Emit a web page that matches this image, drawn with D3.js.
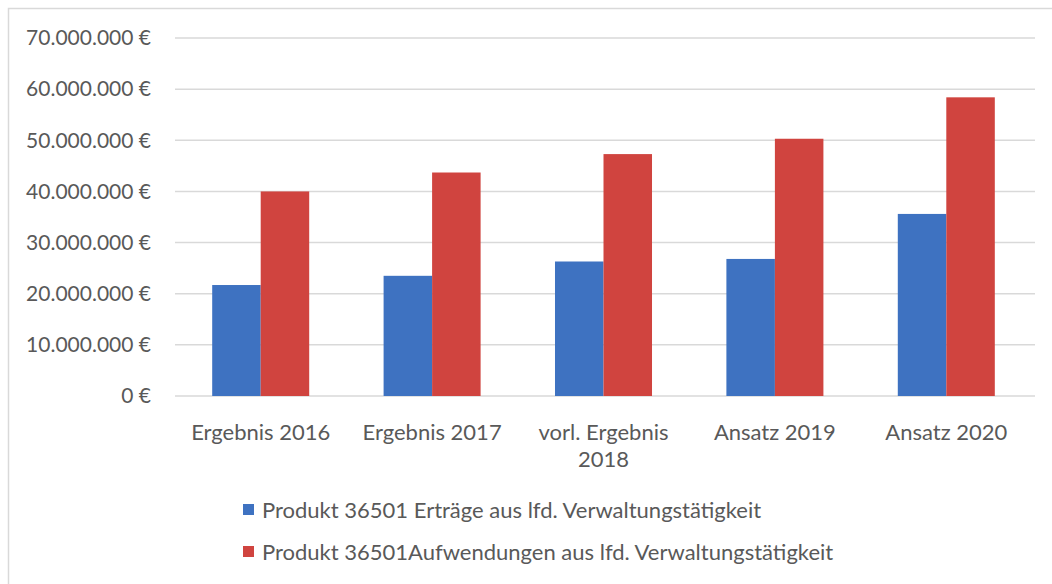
<!DOCTYPE html>
<html>
<head>
<meta charset="utf-8">
<script src="https://cdn.jsdelivr.net/npm/d3@7"></script>
<style>
	body { margin: 0; background: #fff; }
	svg text { font-family: Lato, "Open Sans", sans-serif; fill: #595959; }
</style>
</head>
<body>
<div id="chart"></div>
<script>
// categories (x axis), second line where the label wraps
var categories = ["Ergebnis 2016", "Ergebnis 2017", "vorl. Ergebnis 2018", "Ansatz 2019", "Ansatz 2020"];
var categoryLines = [["Ergebnis 2016"], ["Ergebnis 2017"], ["vorl. Ergebnis", "2018"], ["Ansatz 2019"], ["Ansatz 2020"]];

var seriesNames = ["Produkt 36501 Erträge aus lfd. Verwaltungstätigkeit",
	"Produkt 36501Aufwendungen aus lfd. Verwaltungstätigkeit"];
var ertraege = [21700000, 23500000, 26300000, 26800000, 35600000];
var aufwendungen = [40000000, 43700000, 47300000, 50300000, 58400000];
var yTicks = [0, 10000000, 20000000, 30000000, 40000000, 50000000, 60000000, 70000000];
var colors = ["#3e72c1", "#d0443f"];

var width = 1052, height = 584;
var margins = {top: 38, left: 175, right: 20, bottom: 188};

var svg = d3.select("#chart").append("svg")
	.attr("width", width)
	.attr("height", height);

// outer frame (only left and top edge visible in the picture)
svg.append("rect")
	.attr("x", 8.5).attr("y", 8.5)
	.attr("width", 1200).attr("height", 700)
	.attr("fill", "none")
	.attr("stroke", "#d9d9d9")
	.attr("stroke-width", 1.5);

var y = d3.scaleLinear()
	.domain([0, 70000000])
	.range([396, margins.top]);

var x0 = d3.scaleBand()
	.domain(categories)
	.range([175, 1032])
	.paddingInner(0.434)
	.paddingOuter(0.217);

var x1 = d3.scaleBand()
	.domain([0, 1])
	.range([0, x0.bandwidth()]);

var fmt = function(v) {
	return d3.format(",")(v).replace(/,/g, ".") + " €";
};

// gridlines
svg.append("g").selectAll("line")
	.data(yTicks)
	.enter().append("line")
	.attr("x1", 175).attr("x2", 1035)
	.attr("y1", function(d) { return y(d); })
	.attr("y2", function(d) { return y(d); })
	.attr("stroke", "#d9d9d9")
	.attr("stroke-width", 1.5);

// y labels
svg.append("g").selectAll("text")
	.data(yTicks)
	.enter().append("text")
	.attr("x", 151)
	.attr("y", function(d) { return y(d); })
	.attr("dy", "0.35em")
	.attr("text-anchor", "end")
	.style("font-size", "21px")
	.text(fmt);

// bars
var rows = categories.map(function(c, i) {
	return {cat: c, values: [ertraege[i], aufwendungen[i]]};
});

var groups = svg.append("g").selectAll("g")
	.data(rows)
	.enter().append("g")
	.attr("transform", function(d) { return "translate(" + x0(d.cat) + ",0)"; });

groups.selectAll("rect")
	.data(function(d) { return d.values; })
	.enter().append("rect")
	.attr("x", function(d, i) { return x1(i); })
	.attr("width", x1.bandwidth())
	.attr("y", function(d) { return y(d); })
	.attr("height", function(d) { return y(0) - y(d); })
	.attr("fill", function(d, i) { return colors[i]; });

// x labels
var xl = svg.append("g").selectAll("text")
	.data(categories)
	.enter().append("text")
	.attr("x", function(d) { return x0(d) + x0.bandwidth() / 2; })
	.attr("y", 440)
	.attr("text-anchor", "middle")
	.style("font-size", "22px");

xl.selectAll("tspan")
	.data(function(d, i) { return categoryLines[i]; })
	.enter().append("tspan")
	.attr("x", function() { var p = this.parentNode; return p.getAttribute("x"); })
	.attr("dy", function(d, i) { return i === 0 ? 0 : 27; })
	.text(function(d) { return d; });

// legend
var legend = svg.append("g").selectAll("g")
	.data(seriesNames)
	.enter().append("g")
	.attr("transform", function(d, i) { return "translate(243," + (504 + i * 42) + ")"; });

legend.append("rect")
	.attr("width", 11).attr("height", 11)
	.attr("fill", function(d, i) { return colors[i]; });

legend.append("text")
	.attr("x", 19)
	.attr("y", 6)
	.attr("dy", "0.35em")
	.style("font-size", "22px")
	.text(function(d) { return d; });
</script>
</body>
</html>
